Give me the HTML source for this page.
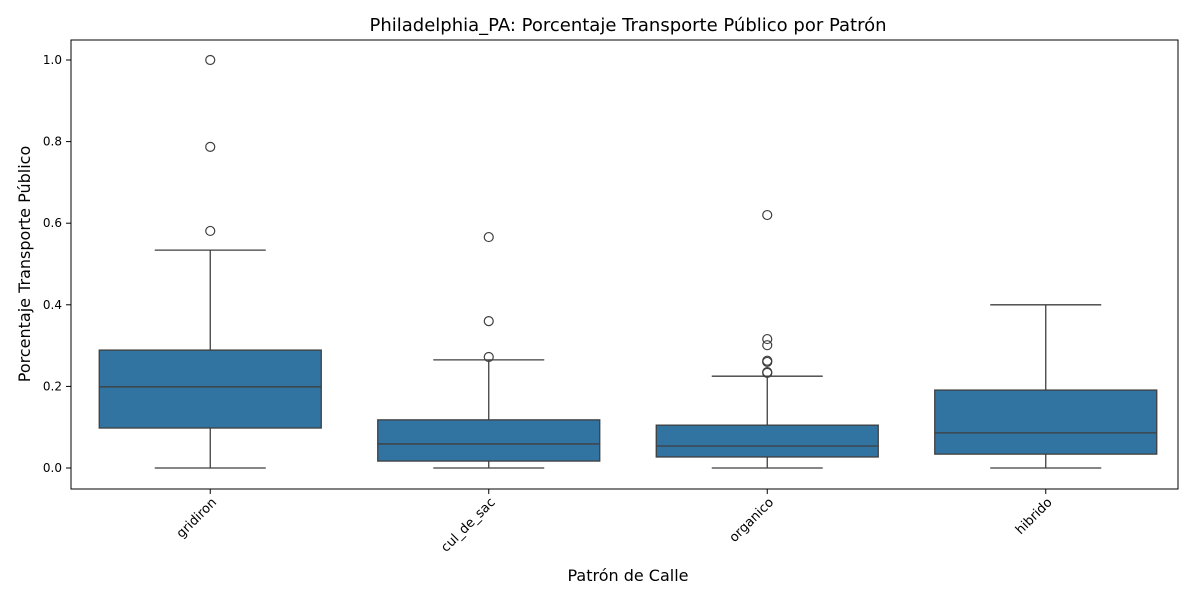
<!DOCTYPE html>
<html><head><meta charset="utf-8"><style>
body{margin:0;background:#fff;font-family:"Liberation Sans","DejaVu Sans",sans-serif}
svg text{font-family:"DejaVu Sans","Liberation Sans",sans-serif}
</style></head><body>
<svg id="c" width="1200" height="600" xmlns="http://www.w3.org/2000/svg">
<rect width="1200" height="600" fill="#fff"/>
<text x="628" y="31" font-size="18" text-anchor="middle">Philadelphia_PA: Porcentaje Transporte Público por Patrón</text>
<text x="628" y="581" font-size="16" text-anchor="middle">Patrón de Calle</text>
<text transform="translate(30,264) rotate(-90)" font-size="16" text-anchor="middle">Porcentaje Transporte Público</text>
<g id="plot"></g>
<rect x="71" y="40" width="1107" height="449" fill="none" stroke="#000" stroke-width="1"/>
</svg>
<script>
const categories=["gridiron","cul_de_sac","organico","hibrido"];
const whiskerLow=[0,0,0,0];
const q1=[0.098,0.017,0.027,0.034];
const median=[0.199,0.059,0.054,0.086];
const q3=[0.289,0.118,0.105,0.191];
const whiskerHigh=[0.534,0.265,0.225,0.400];
const outliers=[[1.0,0.787,0.581],[0.566,0.36,0.272],[0.62,0.316,0.301,0.263,0.26,0.235,0.233],[]];
const yTicks=[0,0.2,0.4,0.6,0.8,1.0];
const tickLabels=["0.0","0.2","0.4","0.6","0.8","1.0"];
const NS="http://www.w3.org/2000/svg";
const g=document.getElementById('plot');
const y=v=>468-v*408;
const x=i=>71+1114*(i+0.5)/categories.length;
const bw=222;
function mk(t,a){const e=document.createElementNS(NS,t);for(const k in a)e.setAttribute(k,a[k]);g.appendChild(e);return e;}
yTicks.forEach((v,i)=>{
 const l=mk('line',{x1:66,x2:71,y1:y(v),y2:y(v),stroke:'#000'});
 
 
 const t=mk('text',{x:62,y:y(v)+4,'font-size':12,'text-anchor':'end'});t.textContent=tickLabels[i];
 
 
});
categories.forEach((c,i)=>{
 const cx=x(i);
 const s={stroke:'#3f3f3f','stroke-width':1.3};
 const w1=mk('line',Object.assign({x1:cx,x2:cx,y1:y(whiskerLow[i]),y2:y(q1[i])},s));
 
 
 const w2=mk('line',Object.assign({x1:cx,x2:cx,y1:y(q3[i]),y2:y(whiskerHigh[i])},s));
 
 
 [whiskerLow[i],whiskerHigh[i]].forEach(v=>{const cap=mk('line',Object.assign({x1:cx-bw/4,x2:cx+bw/4,y1:y(v),y2:y(v)},s));
  
  });
 const b=mk('rect',Object.assign({x:cx-bw/2,y:y(q3[i]),width:bw,height:y(q1[i])-y(q3[i]),fill:'#3274a1'},s));
 
 
 const m=mk('line',Object.assign({x1:cx-bw/2,x2:cx+bw/2,y1:y(median[i]),y2:y(median[i])},s));
 
 
 outliers[i].forEach(v=>{const o=mk('circle',{cx:cx,cy:y(v),r:4.5,fill:'none',stroke:'#3f3f3f','stroke-width':1.2});
  
  });
 const tk=mk('line',{x1:cx,x2:cx,y1:489,y2:494,stroke:'#000'});
 
 
 const t=mk('text',{'font-size':13,'text-anchor':'end',transform:`translate(${cx+7},${503}) rotate(-45)`});t.textContent=c;
 
 
});
</script>
</body></html>
